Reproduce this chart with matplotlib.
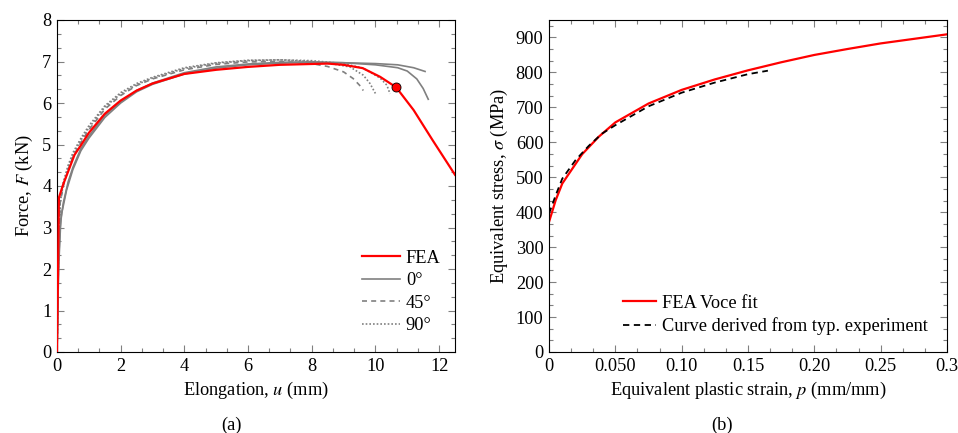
import matplotlib
matplotlib.use("Agg")
import matplotlib.pyplot as plt
from matplotlib.ticker import MultipleLocator, AutoMinorLocator, FixedLocator, FixedFormatter

plt.rcParams['font.family'] = ['Liberation Serif', 'DejaVu Serif']
plt.rcParams['mathtext.fontset'] = 'stix'
plt.rcParams['font.size'] = 13.2

# ---------------- Data: (a) force-elongation ----------------
u_fea = [0, 0.03, 0.06, 0.2, 0.35, 0.55, 0.75, 1.0, 1.5, 2.0, 2.5, 3.0, 4.0, 5.0, 6.0, 7.0,
         8.0, 8.5, 9.0, 9.6, 10.15, 10.65, 11.2, 11.8, 12.5]
F_fea = [0, 1.8, 3.72, 4.05, 4.35, 4.75, 4.98, 5.28, 5.74, 6.06, 6.3, 6.47, 6.7, 6.8, 6.87, 6.92,
         6.94, 6.95, 6.92, 6.84, 6.63, 6.38, 5.83, 5.1, 4.27]
u_frac = 10.65
F_frac = 6.38

u_0a = [0, 0.05, 0.1, 0.15, 0.3, 0.5, 0.75, 1.0, 1.5, 2.0, 2.5, 3, 4, 5, 6, 7, 8, 9, 10, 10.7, 11.2, 11.56]
F_0a = [0, 2.2, 3.0, 3.35, 3.9, 4.4, 4.85, 5.15, 5.65, 6.0, 6.27, 6.45, 6.7, 6.84, 6.92, 6.96, 6.98, 6.97,
        6.95, 6.92, 6.85, 6.76]
u_0b = [0, 0.05, 0.12, 0.2, 0.35, 0.5, 0.75, 1.0, 1.5, 2.0, 2.5, 3, 4, 5, 6, 7, 8, 9, 10, 10.7, 11.0,
        11.3, 11.5, 11.66]
F_0b = [0, 2.0, 3.2, 3.6, 4.1, 4.45, 4.9, 5.2, 5.7, 6.03, 6.3, 6.48, 6.73, 6.87, 6.94, 6.98, 6.99, 6.97,
        6.92, 6.85, 6.77, 6.58, 6.35, 6.09]
u_45 = [0, 0.05, 0.1, 0.2, 0.35, 0.5, 0.75, 1.0, 1.5, 2.0, 2.5, 3, 4, 5, 6, 7, 7.5, 8, 8.5, 9.0, 9.3,
        9.5, 9.62]
F_45 = [0, 2.5, 3.6, 4.0, 4.4, 4.7, 5.05, 5.35, 5.85, 6.18, 6.42, 6.58, 6.8, 6.93, 6.99, 7.0, 6.98, 6.95,
        6.88, 6.75, 6.59, 6.43, 6.30]
u_90a = [0, 0.05, 0.1, 0.2, 0.35, 0.5, 0.75, 1.0, 1.5, 2.0, 2.5, 3, 4, 5, 6, 7, 8, 8.6, 9.2, 9.62,
         9.83, 10.0]
F_90a = [0, 2.6, 3.7, 4.1, 4.5, 4.8, 5.15, 5.45, 5.93, 6.25, 6.47, 6.62, 6.85, 6.97, 7.03, 7.04, 7.0,
         6.95, 6.87, 6.67, 6.47, 6.23]
u_90b = [0, 0.05, 0.1, 0.2, 0.35, 0.5, 0.75, 1.0, 1.5, 2.0, 2.5, 3, 4, 5, 6, 7, 8, 9, 9.62, 10.15,
         10.36, 10.46]
F_90b = [0, 2.5, 3.6, 4.05, 4.45, 4.75, 5.1, 5.4, 5.9, 6.22, 6.44, 6.6, 6.83, 6.96, 7.02, 7.04, 7.02,
         6.95, 6.84, 6.6, 6.43, 6.22]

# ---------------- Data: (b) stress-strain ----------------
p_voce = [0, 0.005, 0.01, 0.025, 0.0375, 0.05, 0.075, 0.1, 0.125, 0.15, 0.175, 0.2, 0.225, 0.25,
          0.275, 0.3]
s_voce = [372, 434, 482, 566, 616, 657, 711, 750, 780, 806, 829, 850, 867, 883, 896, 909]
p_exp = [0, 0.005, 0.01, 0.02, 0.03, 0.04, 0.05, 0.075, 0.1, 0.125, 0.15, 0.165]
s_exp = [396, 448, 496, 549, 590, 625, 649, 703, 742, 771, 795, 805]

xticks_b = [0, 0.05, 0.10, 0.15, 0.20, 0.25, 0.3]
xticklabels_b = ['0', '0.050', '0.10', '0.15', '0.20', '0.25', '0.3']

RED = '#ff0000'
GRAY = '#808080'

fig = plt.figure(figsize=(9.58, 4.33), dpi=100)
ax1 = fig.add_axes([57/958, 81/433, 398/958, 332/433])
ax2 = fig.add_axes([549/958, 81/433, 398/958, 332/433])


def style(ax):
    ax.tick_params(which='both', direction='in', top=True, right=True, color=GRAY, width=0.8)
    ax.tick_params(which='major', length=5, pad=4)
    ax.tick_params(which='minor', length=3)
    for s in ax.spines.values():
        s.set_linewidth(0.8)
        s.set_color('black')


# ---- (a)
lw_g = 1.2
ax1.plot(u_fea, F_fea, color=RED, lw=1.6, label='FEA', zorder=5)
ax1.plot(u_0a, F_0a, color=GRAY, lw=lw_g, label='0°')
ax1.plot(u_0b, F_0b, color=GRAY, lw=lw_g)
ax1.plot(u_45, F_45, color=GRAY, lw=lw_g, ls=(0, (3, 2.5)), label='45°')
ax1.plot(u_90a, F_90a, color=GRAY, lw=lw_g, ls=(0, (1, 1.2)), label='90°')
ax1.plot(u_90b, F_90b, color=GRAY, lw=lw_g, ls=(0, (1, 1.2)))
ax1.plot([u_frac], [F_frac], 'o', color=RED, mec='black', mew=0.6, ms=6.5, zorder=6)
ax1.set_xlim(0, 12.5)
ax1.set_ylim(0, 8)
ax1.xaxis.set_major_locator(MultipleLocator(2))
ax1.xaxis.set_minor_locator(AutoMinorLocator(3))
ax1.yaxis.set_major_locator(MultipleLocator(1))
ax1.yaxis.set_minor_locator(AutoMinorLocator(3))
style(ax1)
ax1.set_xlabel(r'Elongation, $u$ (mm)', labelpad=4)
ax1.set_ylabel(r'Force, $F$ (kN)', labelpad=5)
ax1.legend(loc='center left', bbox_to_anchor=(0.766, 0.181), frameon=False, borderpad=0,
           borderaxespad=0, handlelength=2.1, handletextpad=0.3, labelspacing=0.3)

# ---- (b)
ax2.plot(p_voce, s_voce, color=RED, lw=1.6, label='FEA Voce fit')
ax2.plot(p_exp, s_exp, color='black', lw=1.3, ls=(0, (3.5, 2.5)), label='Curve derived from typ. experiment')
ax2.set_xlim(0, 0.3)
ax2.set_ylim(0, 950)
ax2.xaxis.set_major_locator(FixedLocator(xticks_b))
ax2.xaxis.set_major_formatter(FixedFormatter(xticklabels_b))
ax2.xaxis.set_minor_locator(MultipleLocator(0.05/3))
ax2.yaxis.set_major_locator(MultipleLocator(100))
ax2.yaxis.set_minor_locator(MultipleLocator(100/3))
style(ax2)
ax2.set_xlabel(r'Equivalent plastic strain, $p$ (mm/mm)', labelpad=4)
ax2.set_ylabel(r'Equivalent stress, $\sigma$ (MPa)', labelpad=4)
ax2.legend(loc='center left', bbox_to_anchor=(0.187, 0.112), frameon=False, borderpad=0,
           borderaxespad=0, handlelength=1.8, handletextpad=0.3, labelspacing=0.3)

fig.text(231/958, 1 - 425/433, '(a)', ha='center', va='center')
fig.text(722/958, 1 - 425/433, '(b)', ha='center', va='center')

fig.savefig('out.png', dpi=100)
